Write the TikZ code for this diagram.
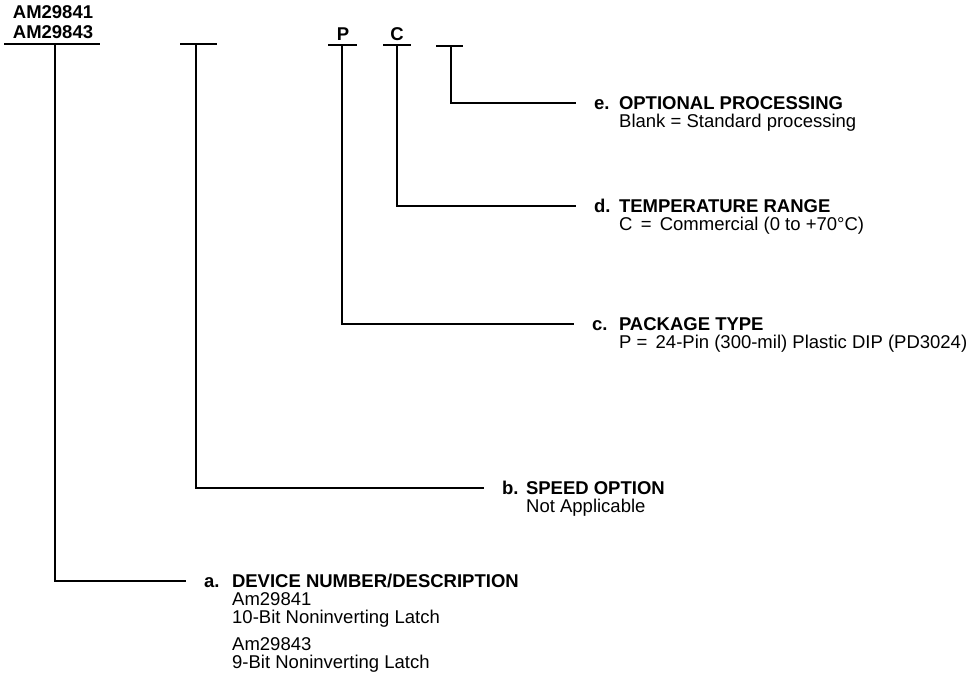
\documentclass[tikz,border=0pt]{standalone}
\usepackage{fontspec}
\setmainfont{Liberation Sans}
\usepackage{tikz}
\usetikzlibrary{positioning}
\tikzset{
    every node/.style={font=\fontsize{18.5}{18}\selectfont, inner sep=0pt},
}

\begin{document}
\begin{tikzpicture}[x=1pt, y=-1pt,
        lead/.style={line width=1.5pt},
        key/.style={font=\fontsize{18.5}{18}\selectfont\bfseries, text height=12pt, text depth=0pt, outer xsep=18pt, anchor=text},
        title/.style={font=\fontsize{18.5}{18}\selectfont\bfseries, anchor=text},
        note/.style={align=left, anchor=north west},
        code/.style={font=\fontsize{18.5}{20}\selectfont\bfseries, align=center, anchor=base}
    ]
    \useasboundingbox (0,0) rectangle (976,688);

    % codice in alto
    \node[code] (dev) at (53,38) {AM29841\\AM29843};
    \node[code] (pk) at (343,40) {P};
    \node[code] (tr) at (397,40) {C};

    % barre
    \draw[lead] (4,44) -- (100,44);
    \draw[lead] (180,44) -- (217,44);
    \draw[lead] (328,45) -- (357,45);
    \draw[lead] (383,45) -- (411,45);
    \draw[lead] (436,46) -- (463,46);
    \coordinate (ka) at (55,44);
    \coordinate (kb) at (196,44);
    \coordinate (kc) at (342,45);
    \coordinate (kd) at (397,45);
    \coordinate (ke) at (451,46);

    % e. optional processing
    \node[key] (he) at (594,109) {e.};
    \node[title] (te) at (619,109) {OPTIONAL PROCESSING};
    \node[note] (ne) at (619,114) {Blank = Standard processing};

    % d. temperature range
    \node[key] (hd) at (594,212) {d.};
    \node[title] (td) at (619,212) {TEMPERATURE RANGE};
    \node[note] (nd) at (619,217) {C \,=\, Commercial (0 to +70°C)};

    % c. package type
    \node[key] (hc) at (592,330) {c.};
    \node[title] (tc) at (619,330) {PACKAGE TYPE};
    \node[note] (nc) at (619,335) {P =\, 24-Pin (300-mil) Plastic DIP (PD3024)};

    % b. speed option
    \node[key] (hb) at (502,494) {b.};
    \node[title] (tb) at (526,494) {SPEED OPTION};
    \node[note] (nb) at (526,499) {Not Applicable};

    % a. device number
    \node[key] (ha) at (204,587) {a.};
    \node[title] (ta) at (232,587) {DEVICE NUMBER/DESCRIPTION};
    \node[note] (na) at (232,592) {Am29841\\10-Bit Noninverting Latch\\[9pt]Am29843\\9-Bit Noninverting Latch};

    % linee di richiamo
    \draw[lead] (ke) |- (he);
    \draw[lead] (kd) |- (hd);
    \draw[lead] (kc) |- (hc);
    \draw[lead] (kb) |- (hb);
    \draw[lead] (ka) |- (ha);
\end{tikzpicture}
\end{document}
